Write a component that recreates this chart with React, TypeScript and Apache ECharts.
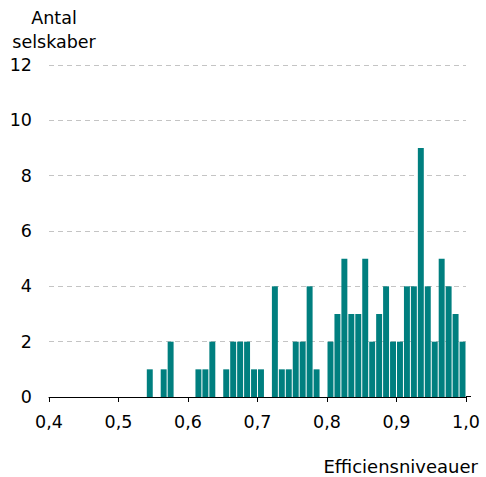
import React, { useEffect, useRef } from "react";
import * as echarts from "echarts";

const binStarts = [
  0.54, 0.56, 0.57, 0.61, 0.62, 0.63, 0.65, 0.66, 0.67, 0.68, 0.69, 0.7,
  0.72, 0.73, 0.74, 0.75, 0.76, 0.77, 0.78, 0.8, 0.81, 0.82, 0.83, 0.84,
  0.85, 0.86, 0.87, 0.88, 0.89, 0.9, 0.91, 0.92, 0.93, 0.94, 0.95, 0.96,
  0.97, 0.98, 0.99,
];
const counts = [
  1, 1, 2, 1, 1, 2, 1, 2, 2, 2, 1, 1,
  4, 1, 1, 2, 2, 4, 1, 2, 3, 5, 3, 3,
  5, 2, 3, 4, 2, 2, 4, 4, 9, 4, 2, 5,
  4, 3, 2,
];
const binWidth = 0.01;
const yAxisTitle = "Antal\nselskaber";
const xAxisTitle = "Efficiensniveauer";
const FONT = "DejaVu Sans";
const FS = 17.5;

export default function App() {
  const ref = useRef<HTMLDivElement>(null);
  useEffect(() => {
    if (!ref.current) return;
    const chart = echarts.init(ref.current, null, { renderer: "svg" });
    chart.setOption({
      animation: false,
      textStyle: { fontFamily: FONT },
      grid: { left: 49, right: 20, top: 65, bottom: 80, containLabel: false },
      xAxis: {
        type: "value",
        min: 0.4,
        max: 1.0,
        interval: 0.1,
        axisLine: { show: true, lineStyle: { color: "#000", width: 1 } },
        axisTick: { show: true, length: 5, lineStyle: { color: "#000" } },
        splitLine: { show: false },
        axisLabel: {
          color: "#000",
          fontSize: FS,
          fontFamily: FONT,
          margin: 16,
          formatter: (v: number) => v.toFixed(1).replace(".", ","),
        },
      },
      yAxis: {
        type: "value",
        min: 0,
        max: 12,
        interval: 2,
        axisLine: { show: false },
        axisTick: { show: false },
        splitLine: { show: true, lineStyle: { color: "#c4c4c4", type: [5, 4], width: 1 } },
        axisLabel: { color: "#000", fontSize: FS, fontFamily: FONT, margin: 17 },
      },
      graphic: [
        {
          type: "text",
          x: 54,
          y: 6,
          style: {
            text: yAxisTitle,
            fontSize: FS,
            fontFamily: FONT,
            fill: "#000",
            align: "center",
            verticalAlign: "top",
            lineHeight: 24,
          },
        },
        {
          type: "text",
          x: 478,
          y: 466,
          style: {
            text: xAxisTitle,
            fontSize: 18,
            fontFamily: FONT,
            fill: "#000",
            align: "right",
            verticalAlign: "middle",
          },
        },
      ],
      series: [
        {
          type: "custom",
          data: binStarts.map((s, i) => [s, counts[i]]),
          renderItem: (params: any, api: any) => {
            const x0 = api.value(0);
            const y = api.value(1);
            const p0 = api.coord([x0, y]);
            const p1 = api.coord([x0 + binWidth, 0]);
            return {
              type: "rect",
              shape: { x: p0[0] + 0.5, y: p0[1], width: p1[0] - p0[0] - 1, height: p1[1] - p0[1] },
              style: { fill: "#007f7f" },
            };
          },
        },
      ],
    });
    const end = chart.convertToPixel({ gridIndex: 0 }, [1.0, 0]) as number[];
    const yLine = Math.round(end[1]) - 0.5;
    chart.setOption({
      graphic: [
        {
          type: "line",
          id: "axisExt",
          shape: { x1: end[0], y1: yLine, x2: end[0] + 5, y2: yLine },
          style: { stroke: "#000", lineWidth: 1 },
          silent: true,
        },
      ],
    });
    return () => chart.dispose();
  }, []);
  return (
    <div
      ref={ref}
      style={{ position: "absolute", left: 0, top: 0, width: 486, height: 477 }}
    />
  );
}
